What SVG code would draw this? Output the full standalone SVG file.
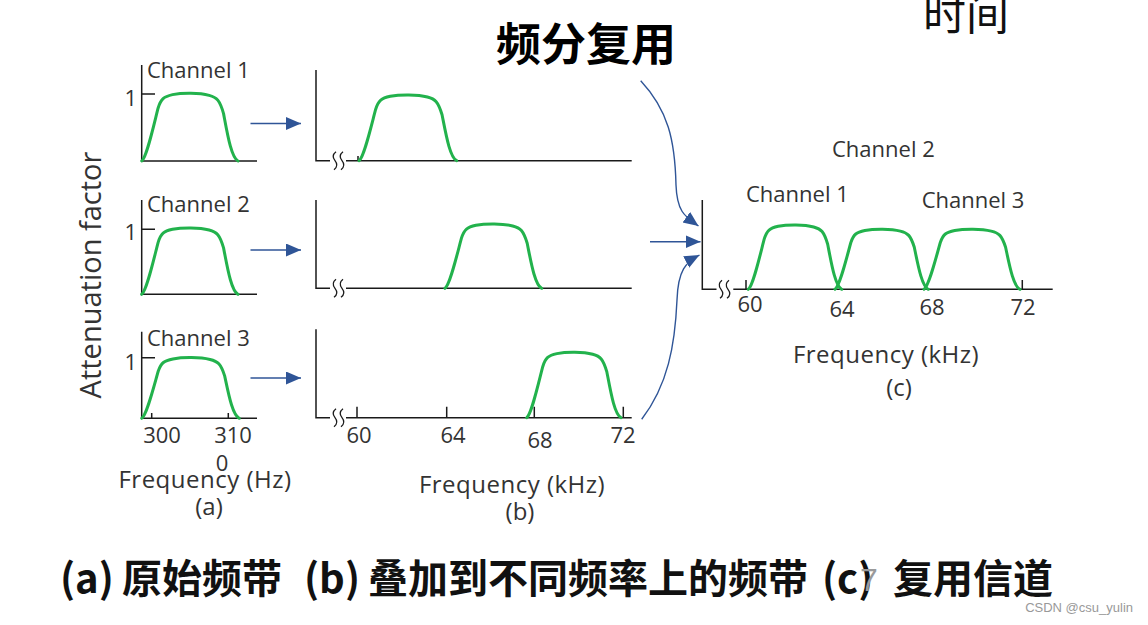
<svg xmlns="http://www.w3.org/2000/svg" xmlns:xlink="http://www.w3.org/1999/xlink" width="1148" height="625" viewBox="0 0 1148 625">
  <style>
    .axis { stroke: #1a1a1a; stroke-width: 1.5; fill: none; }
    .lbl { font-family: "Open Sans", "Liberation Sans", sans-serif; font-size: 22px; fill: #333333; }
    .freq { font-size: 24px; letter-spacing: 0.5px; }
    .sub { font-size: 24px; }
    .arr { stroke: #2f5597; stroke-width: 1.4; fill: none; }
    .cap { font-family: "Noto Sans CJK SC", "Liberation Sans", sans-serif; font-size: 40px; font-weight: bold; fill: #111111; }
  </style>
  <defs>
    <path id="bump" d="M0,0 C0.05,-0.05 0.12,-0.5 0.17,-0.78 C0.2,-0.92 0.23,-0.95 0.32,-0.98 C0.42,-1.01 0.6,-1.01 0.7,-0.97 C0.78,-0.94 0.81,-0.9 0.85,-0.7 C0.89,-0.4 0.93,-0.05 1,0" fill="none" stroke="#22b24c" stroke-width="3" stroke-linecap="round" vector-effect="non-scaling-stroke"/>
    <path id="squig" d="M0,-9 q-5,4 -1,9 q4,5 -1,9" fill="none" stroke="#1a1a1a" stroke-width="1.3"/>
    <marker id="ah" markerUnits="userSpaceOnUse" markerWidth="16" markerHeight="14" refX="15" refY="6.5" orient="auto">
      <path d="M0,0 L15,6.5 L0,13 z" fill="#2f5597"/>
    </marker>
  </defs>

  <!-- Title texts -->
  <g id="title">
    <text x="586" y="61" text-anchor="middle" font-family="'Noto Sans CJK SC', sans-serif" font-size="45" font-weight="bold" fill="#000">频分复用</text>
  </g>
  <g id="time-label">
    <text x="966" y="30" text-anchor="middle" font-family="'Noto Sans CJK SC', sans-serif" font-size="43" fill="#111">时间</text>
  </g>

  <!-- Y axis label -->
  <g id="ylabel">
    <text transform="translate(101,275) rotate(-90)" text-anchor="middle" font-family="'Open Sans', 'Liberation Sans', sans-serif" font-size="29" fill="#333">Attenuation factor</text>
  </g>

  <!-- Panel (a) -->
  <g id="a1">
    <path class="axis" d="M141.7,65 V161 H257 M141.7,94 H155"/>
    <use xlink:href="#bump" transform="translate(141.7,161) scale(96.3,67.7)"/>
    <text class="lbl" x="147" y="78">Channel 1</text>
    <text class="lbl" x="137" y="106" text-anchor="end" font-size="20">1</text>
  </g>
  <g id="a2">
    <path class="axis" d="M141.7,200 V294.3 H257 M141.7,229.3 H155"/>
    <use xlink:href="#bump" transform="translate(141.7,294.3) scale(96.3,66.3)"/>
    <text class="lbl" x="147" y="212">Channel 2</text>
    <text class="lbl" x="137" y="240" text-anchor="end" font-size="20">1</text>
  </g>
  <g id="a3">
    <path class="axis" d="M141.7,331.7 V418.3 H257 M141.7,357.7 H155 M151.7,418.3 V413 M228.3,418.3 V413"/>
    <use xlink:href="#bump" transform="translate(141.7,418.3) scale(97.6,60.6)"/>
    <text class="lbl" x="147" y="346">Channel 3</text>
    <text class="lbl" x="137" y="370" text-anchor="end" font-size="20">1</text>
    <text class="lbl" x="162" y="443" text-anchor="middle">300</text>
    <text class="lbl" x="233" y="443" text-anchor="middle">310</text>
    <text class="lbl" x="222" y="471" text-anchor="middle">0</text>
    <text class="lbl freq" x="205" y="488" text-anchor="middle">Frequency (Hz)</text>
    <text class="lbl sub" x="209" y="515" text-anchor="middle">(a)</text>
  </g>

  <!-- Panel (b) -->
  <g id="b1">
    <path class="axis" d="M316,70 V160.7 H330 M346,160.7 H631.7 M358,160.7 V156"/>
    <use xlink:href="#squig" transform="translate(336,160.7)"/>
    <use xlink:href="#squig" transform="translate(343,160.7)"/>
    <use xlink:href="#bump" transform="translate(359,160.7) scale(97.7,65.7)"/>
  </g>
  <g id="b2">
    <path class="axis" d="M316,200 V288.3 H330 M346,288.3 H631.7"/>
    <use xlink:href="#squig" transform="translate(336,288.3)"/>
    <use xlink:href="#squig" transform="translate(343,288.3)"/>
    <use xlink:href="#bump" transform="translate(445,288.3) scale(96.7,64.3)"/>
  </g>
  <g id="b3">
    <path class="axis" d="M316,329.3 V417.7 H330 M346,417.7 H631.7 M357,417.7 V406.7 M446.7,417.7 V406.7 M534.3,417.7 V406.7 M623.3,417.7 V406.7"/>
    <use xlink:href="#squig" transform="translate(336,417.7)"/>
    <use xlink:href="#squig" transform="translate(343,417.7)"/>
    <use xlink:href="#bump" transform="translate(526.7,417.7) scale(94.3,65.4)"/>
    <text class="lbl" x="359" y="443" text-anchor="middle">60</text>
    <text class="lbl" x="453" y="443" text-anchor="middle">64</text>
    <text class="lbl" x="540" y="448" text-anchor="middle">68</text>
    <text class="lbl" x="623" y="443" text-anchor="middle">72</text>
    <text class="lbl freq" x="512" y="493" text-anchor="middle">Frequency (kHz)</text>
    <text class="lbl sub" x="520" y="520" text-anchor="middle">(b)</text>
  </g>

  <!-- Panel (c) -->
  <g id="c">
    <path class="axis" d="M702.3,200 V289.3 H716.5 M733.3,289.3 H1052.7 M746,289.3 V280 M1022.3,289.3 V280"/>
    <use xlink:href="#squig" transform="translate(722,289.3)"/>
    <use xlink:href="#squig" transform="translate(729,289.3)"/>
    <use xlink:href="#bump" transform="translate(748.3,289.3) scale(93.4,64.3)"/>
    <use xlink:href="#bump" transform="translate(835,289.3) scale(93.3,60)"/>
    <use xlink:href="#bump" transform="translate(924,289.3) scale(96,60)"/>
    <text class="lbl" x="832" y="157">Channel 2</text>
    <text class="lbl" x="746" y="202">Channel 1</text>
    <text class="lbl" x="921.7" y="208">Channel 3</text>
    <text class="lbl" x="750" y="312" text-anchor="middle">60</text>
    <text class="lbl" x="842" y="317" text-anchor="middle">64</text>
    <text class="lbl" x="932" y="315" text-anchor="middle">68</text>
    <text class="lbl" x="1023" y="315" text-anchor="middle">72</text>
    <text class="lbl freq" x="886" y="363" text-anchor="middle">Frequency (kHz)</text>
    <text class="lbl sub" x="899" y="396" text-anchor="middle">(c)</text>
  </g>

  <!-- Connectors -->
  <g id="connectors">
    <path class="arr" d="M250.5,123.5 H301" marker-end="url(#ah)"/>
    <path class="arr" d="M250.5,250 H301" marker-end="url(#ah)"/>
    <path class="arr" d="M250.5,378 H301" stroke="#4472c4" marker-end="url(#ah)"/>
    <path class="arr" d="M650,241.7 H700.5" marker-end="url(#ah)"/>
    <path class="arr" d="M640.7,80.7 C668,110 675,140 676,185 C677,213 686,217 698.5,226" marker-end="url(#ah)"/>
    <path class="arr" d="M641.7,419.3 C668,385 675,345 677,300 C678,270 686,262 699.5,255" marker-end="url(#ah)"/>
  </g>

  <!-- Caption -->
  <g id="caption">
    <text class="cap" x="60" y="593">(a)</text>
    <text class="cap" x="122" y="593">原始频带</text>
    <text class="cap" x="304" y="593">(b)</text>
    <text class="cap" x="368" y="593">叠加到不同频率上的频带</text>
    <text class="cap" x="822" y="593">(c)</text>
    <text x="860" y="591" font-family="'Liberation Sans', sans-serif" font-size="32" fill="#9a9a9a">7</text>
    <text class="cap" x="893" y="593">复用信道</text>
  </g>

  <g id="watermark">
    <text x="1133" y="612" text-anchor="end" font-family="'Liberation Sans', sans-serif" font-size="13" fill="#999">CSDN @csu_yulin</text>
  </g>
</svg>
